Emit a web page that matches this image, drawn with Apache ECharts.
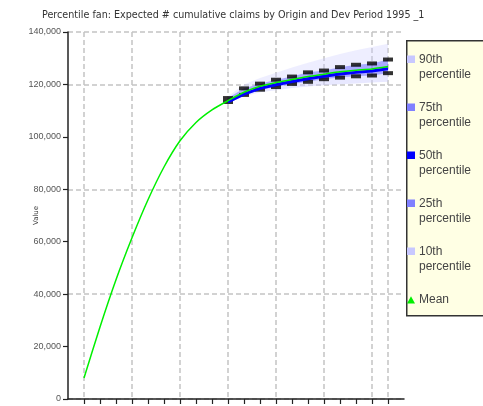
<!DOCTYPE html>
<html><head><meta charset="utf-8">
<script src="https://cdn.jsdelivr.net/npm/echarts@6/dist/echarts.min.js"></script>
<style>html,body{margin:0;padding:0;background:#fff}#c{width:483px;height:406px}</style>
</head><body><div id="c"></div>
<script>
// ---- data ----
const titleText = "Percentile fan: Expected # cumulative claims by Origin and Dev Period 1995 _1";
const yAxisName = "Value";
const periods = [1,2,3,4,5,6,7,8,9,10,11,12,13,14,15,16,17,18,19,20];
const meanValues = [8000,27500,45500,61500,76000,88500,98500,105500,110300,113800,117000,119300,120700,121900,123000,123900,124800,125400,125900,126800];
const fanPeriods = [10,11,12,13,14,15,16,17,18,19,20];
const p10 = [113000,115500,117000,117800,118600,119200,119700,120100,120400,120700,121000];
const p25 = [113300,116000,118000,119000,120200,121000,122000,122600,123100,123400,124300];
const p50 = [113300,116300,118500,119900,121100,122200,123100,124000,124600,125100,126000];
const p75 = [114800,118500,120300,121800,123000,124600,125300,126600,127500,128000,129500];
const p90 = [115500,120000,122500,124500,126500,128300,130000,131600,133000,134300,135500];
const legendNames = ["90th percentile","75th percentile","50th percentile","25th percentile","10th percentile","Mean"];

// ---- build ----
const pair = (xs, ys) => xs.map((x, i) => [x, ys[i]]);
function bandSeries(name, lo, hi, fill, solid, z) {
  return {
    name, type: 'custom', coordinateSystem: 'cartesian2d',
    data: fanPeriods.map((x, i) => [x, lo[i], hi[i]]),
    encode: { x: 0, y: [1, 2] },
    itemStyle: { color: solid }, z: z, silent: true,
    renderItem: (params, api) => {
      if (params.dataIndex !== 0) return null;
      const top = fanPeriods.map((x, i) => api.coord([x, hi[i]]));
      const bot = fanPeriods.map((x, i) => api.coord([x, lo[i]])).reverse();
      return { type: 'polygon', shape: { points: top.concat(bot) }, style: { fill: fill } };
    }
  };
}
const sq = 'path://M0,0h8M0,3.5h8v7.5h-8zM0,30h8';
const tri = 'path://M0,0h8M4,3L8.5,11H-0.5zM0,30h8';

const chart = echarts.init(document.getElementById('c'), null, { renderer: 'canvas' });
chart.setOption({
  animation: false,
  backgroundColor: '#ffffff',
  title: {
    text: titleText, left: 37, top: 5,
    textStyle: { fontSize: 9.6, fontWeight: 'normal', color: '#333', fontFamily: 'DejaVu Sans' }
  },
  graphic: [{
    type: 'rect', z: 0, left: 406, top: 40,
    shape: { x: 0, y: 0, width: 100, height: 275 },
    style: { fill: '#ffffe4', stroke: '#333', lineWidth: 1.5 }
  }],
  legend: {
    orient: 'vertical', left: 407, top: 52, padding: 0, z: 10,
    itemWidth: 8, itemHeight: 30, itemGap: 18, icon: sq,
    itemStyle: { borderWidth: 0 },
    textStyle: { fontSize: 12, lineHeight: 15, color: '#444', fontFamily: 'Liberation Sans, Arial, sans-serif', padding: [0,0,0,-1] },
    formatter: n => n === 'Mean' ? 'Mean\n ' : n.replace(' ', '\n'),
    data: legendNames.map(n => n === 'Mean' ? { name: n, icon: tri } : { name: n, icon: sq }),
    selectedMode: false
  },
  grid: [
    { left: 68, right: 79, top: 32, bottom: 7 },
    { left: 84, right: 95, top: 32, bottom: 7 }
  ],
  xAxis: [
    {
      type: 'value', gridIndex: 0, min: 0, max: 21, interval: 1,
      axisLine: { show: true, lineStyle: { color: '#222', width: 1.5 } },
      axisTick: { show: true, length: 5, customValues: periods, lineStyle: { color: '#222', width: 1.2 } },
      axisLabel: { show: false }, splitLine: { show: false }
    },
    {
      type: 'value', gridIndex: 1, min: 0, max: periods.length - 1, interval: 3,
      axisLine: { show: false }, axisTick: { show: false }, axisLabel: { show: false },
      splitLine: { show: true, lineStyle: { color: '#c4c4c4', width: 1.5, type: [5, 3] } }
    }
  ],
  yAxis: [
    {
      type: 'value', gridIndex: 0, min: 0, max: 140000, interval: 20000,
      name: yAxisName, nameLocation: 'middle', nameGap: 28, nameMoveOverlap: false,
      nameTextStyle: { fontSize: 7, color: '#444', fontFamily: 'DejaVu Sans' },
      axisLine: { show: true, lineStyle: { color: '#222', width: 1.5 } },
      axisTick: { show: true, length: 5, lineStyle: { color: '#222', width: 1.2 } },
      axisLabel: { fontSize: 9, color: '#555', margin: 7, fontFamily: 'Liberation Sans, Arial, sans-serif',
        formatter: v => v.toLocaleString('en-US') },
      splitLine: { show: false }
    },
    {
      type: 'value', gridIndex: 0, min: 0, max: 140000, interval: 40000, position: 'left',
      axisLine: { show: false }, axisTick: { show: false }, axisLabel: { show: false },
      splitLine: { show: true, lineStyle: { color: '#c4c4c4', width: 1.5, type: [5, 3] } }
    },
    {
      type: 'value', gridIndex: 1, min: 0, max: 140000, show: false, splitLine: { show: false }
    }
  ],
  series: [
    bandSeries('90th percentile', p75, p90, 'rgba(205,205,255,0.35)', '#c8c8ff', 2),
    bandSeries('10th percentile', p10, p25, 'rgba(205,205,255,0.45)', '#c8c8ff', 2),
    bandSeries('75th percentile', p50, p75, 'rgba(100,100,255,0.55)', '#8080ff', 3),
    bandSeries('25th percentile', p25, p50, 'rgba(100,100,255,0.55)', '#8080ff', 3),
    { name: 'upper', type: 'scatter', data: pair(fanPeriods, p75), symbol: 'rect', symbolSize: [10, 4],
      itemStyle: { color: '#000' }, z: 4, silent: true },
    { name: 'lower', type: 'scatter', data: pair(fanPeriods, p25), symbol: 'rect', symbolSize: [10, 4],
      itemStyle: { color: '#000' }, z: 4, silent: true },
    { name: '50th percentile', type: 'line', data: pair(fanPeriods, p50), showSymbol: false, symbol: 'none',
      itemStyle: { color: '#0000ff' }, lineStyle: { color: '#0000ff', width: 3 }, z: 5 },
    { name: 'Mean', type: 'line', data: pair(periods, meanValues), showSymbol: false, symbol: 'triangle',
      smooth: 0.2, itemStyle: { color: '#00f000' }, lineStyle: { color: '#00f000', width: 1.5 }, z: 6 }
  ]
});
</script>
</body></html>
